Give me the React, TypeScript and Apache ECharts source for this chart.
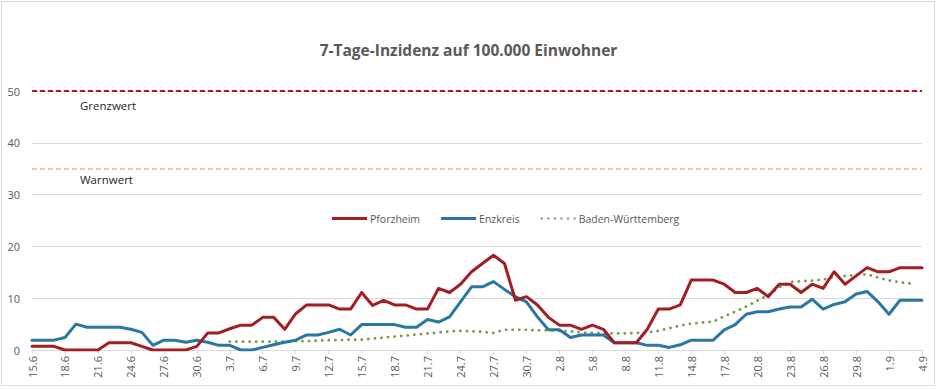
import React, { useEffect, useRef } from "react";
import * as echarts from "echarts";

const title = "7-Tage-Inzidenz auf 100.000 Einwohner";

const dates = [
  "15.6", "16.6", "17.6", "18.6", "19.6", "20.6", "21.6", "22.6", "23.6", "24.6", "25.6", "26.6", "27.6", "28.6", "29.6", "30.6",
  "1.7", "2.7", "3.7", "4.7", "5.7", "6.7", "7.7", "8.7", "9.7", "10.7", "11.7", "12.7", "13.7", "14.7", "15.7", "16.7",
  "17.7", "18.7", "19.7", "20.7", "21.7", "22.7", "23.7", "24.7", "25.7", "26.7", "27.7", "28.7", "29.7", "30.7", "31.7",
  "1.8", "2.8", "3.8", "4.8", "5.8", "6.8", "7.8", "8.8", "9.8", "10.8", "11.8", "12.8", "13.8", "14.8", "15.8", "16.8",
  "17.8", "18.8", "19.8", "20.8", "21.8", "22.8", "23.8", "24.8", "25.8", "26.8", "27.8", "28.8", "29.8", "30.8", "31.8",
  "1.9", "2.9", "3.9", "4.9",
];

const pforzheim = [
  0.7, 0.7, 0.7, 0, 0, 0, 0, 1.4, 1.4, 1.4, 0.7, 0, 0, 0, 0, 0.7,
  3.3, 3.3, 4.1, 4.8, 4.8, 6.3, 6.3, 4.0, 7.0, 8.7, 8.7, 8.7, 7.9, 7.9, 11.1, 8.6,
  9.6, 8.7, 8.7, 7.9, 7.9, 11.9, 11.1, 12.7, 15.1, 16.7, 18.3, 16.7, 9.6, 10.3, 8.7,
  6.3, 4.8, 4.8, 4.0, 4.8, 4.0, 1.4, 1.4, 1.4, 4.0, 7.9, 7.9, 8.7, 13.5, 13.5, 13.5,
  12.7, 11.1, 11.1, 11.9, 10.3, 12.7, 12.7, 11.1, 12.7, 11.9, 15.1, 12.7, 14.3, 15.9, 15.1,
  15.1, 15.9, 15.9, 15.9,
];

const enzkreis = [
  1.9, 1.9, 1.9, 2.4, 5.0, 4.4, 4.4, 4.4, 4.4, 4.0, 3.4, 0.9, 1.9, 1.9, 1.5, 1.9,
  1.5, 0.9, 0.9, 0, 0, 0.5, 1.0, 1.5, 1.9, 2.9, 2.9, 3.4, 4.0, 2.9, 4.9, 4.9,
  4.9, 4.9, 4.4, 4.4, 5.9, 5.4, 6.4, 9.3, 12.2, 12.2, 13.2, 11.7, 10.3, 9.3, 6.4,
  3.9, 3.9, 2.4, 2.9, 2.9, 2.9, 1.4, 1.4, 1.4, 0.9, 0.9, 0.5, 1.0, 1.9, 1.9, 1.9,
  3.9, 4.9, 6.9, 7.4, 7.4, 7.9, 8.3, 8.3, 9.8, 7.9, 8.8, 9.3, 10.8, 11.3, 9.3,
  6.9, 9.6, 9.6, 9.6,
];

const badenWuerttemberg = [
  null, null, null, null, null, null, null, null, null, null, null, null, null, null, null, null,
  null, null, 1.6, 1.6, 1.6, 1.6, 1.6, 1.6, 1.7, 1.7, 1.8, 1.9, 1.9, 2.0, 2.0, 2.2,
  2.4, 2.6, 2.8, 3.0, 3.2, 3.4, 3.6, 3.7, 3.6, 3.5, 3.3, 3.9, 3.9, 3.9, 3.8,
  3.8, 3.7, 3.6, 3.4, 3.3, 3.2, 3.2, 3.2, 3.3, 3.4, 3.7, 4.2, 4.7, 5.1, 5.3, 5.5,
  6.5, 7.4, 8.4, 9.5, 10.6, 12.1, 13.1, 13.3, 13.4, 13.6, 14.1, 14.3, 14.5, 14.6, 14.0,
  13.4, 13.1, 12.8, null,
];

const seriesNames = ["Pforzheim", "Enzkreis", "Baden-Württemberg"];
const grenzwert = 50;
const warnwert = 35;
const thresholdLabels = ["Grenzwert", "Warnwert"];

const dotsIcon =
  "path://M0,0h2v2h-2z M6,0h2v2h-2z M12,0h2v2h-2z M18,0h2v2h-2z M24,0h2v2h-2z M30,0h2v2h-2z";

export default function App() {
  const ref = useRef<HTMLDivElement>(null);

  useEffect(() => {
    if (!ref.current) return;
    const chart = echarts.init(ref.current, null, { renderer: "svg" });
    const font = "'Open Sans', 'Noto Sans', sans-serif";
    chart.setOption({
      animation: false,
      backgroundColor: "#ffffff",
      textStyle: { fontFamily: font },
      title: {
        text: title,
        left: "center",
        top: 37,
        textStyle: { fontFamily: font, fontSize: 15.5, fontWeight: "bold", color: "#595959" },
      },
      legend: {
        left: 327,
        top: 208,
        itemWidth: 35,
        itemHeight: 3,
        itemGap: 21,
        textStyle: { fontFamily: font, fontSize: 10.5, color: "#595959", padding: [0, 0, 0, -2] },
        data: [
          { name: seriesNames[0], icon: "rect" },
          { name: seriesNames[1], icon: "rect" },
          { name: seriesNames[2], icon: dotsIcon },
        ],
      },
      graphic: [
        {
          type: "rect",
          shape: { x: 1.5, y: 1.5, width: 933, height: 384 },
          style: { fill: "none", stroke: "#D9D9D9", lineWidth: 1 },
          silent: true,
        },
        {
          type: "text",
          left: 80,
          top: 99,
          style: { text: thresholdLabels[0], font: `11.5px ${font}`, fill: "#262626" },
        },
        {
          type: "text",
          left: 80,
          top: 173,
          style: { text: thresholdLabels[1], font: `11.5px ${font}`, fill: "#262626" },
        },
      ],
      grid: { left: 32, right: 15, top: 91, bottom: 39, containLabel: false },
      xAxis: {
        type: "category",
        data: dates,
        boundaryGap: false,
        axisLine: { lineStyle: { color: "#D9D9D9", width: 1 } },
        axisTick: { show: true, interval: 2, length: 4, lineStyle: { color: "#D9D9D9" } },
        axisLabel: {
          interval: 2,
          rotate: 90,
          color: "#595959",
          fontSize: 11,
          fontFamily: font,
          margin: 6,
        },
        splitLine: { show: false },
      },
      yAxis: {
        type: "value",
        min: 0,
        max: 50,
        interval: 10,
        axisLine: { show: false },
        axisTick: { show: false },
        axisLabel: { color: "#595959", fontSize: 11, fontFamily: font, margin: 12 },
        splitLine: { lineStyle: { color: "#D9D9D9", width: 1 } },
      },
      series: [
        {
          name: seriesNames[0],
          type: "line",
          data: pforzheim,
          showSymbol: false,
          symbol: "none",
          lineStyle: { color: "#A21E22", width: 3, join: "round", cap: "round" },
          itemStyle: { color: "#A21E22" },
          z: 4,
          markLine: {
            silent: true,
            symbol: ["none", "none"],
            label: { show: false },
            data: [
              { yAxis: grenzwert, lineStyle: { color: "#B8141A", width: 2.2, type: [5, 3] } },
              { yAxis: warnwert, lineStyle: { color: "#F4B183", width: 1.5, type: [5, 3] } },
            ],
          },
        },
        {
          name: seriesNames[1],
          type: "line",
          data: enzkreis,
          showSymbol: false,
          symbol: "none",
          lineStyle: { color: "#2A77A4", width: 3, join: "round", cap: "round" },
          itemStyle: { color: "#2A77A4" },
          z: 3,
        },
        {
          name: seriesNames[2],
          type: "line",
          data: badenWuerttemberg,
          showSymbol: false,
          symbol: "none",
          connectNulls: false,
          lineStyle: { color: "#7C9A4C", width: 2.8, type: [0.1, 6.5], cap: "round" },
          itemStyle: { color: "#8A9A70" },
          z: 2,
        },
      ],
    });
    return () => chart.dispose();
  }, []);

  return (
    <div
      ref={ref}
      style={{ position: "absolute", left: 0, top: 0, width: 937, height: 389, background: "#fff" }}
    />
  );
}
